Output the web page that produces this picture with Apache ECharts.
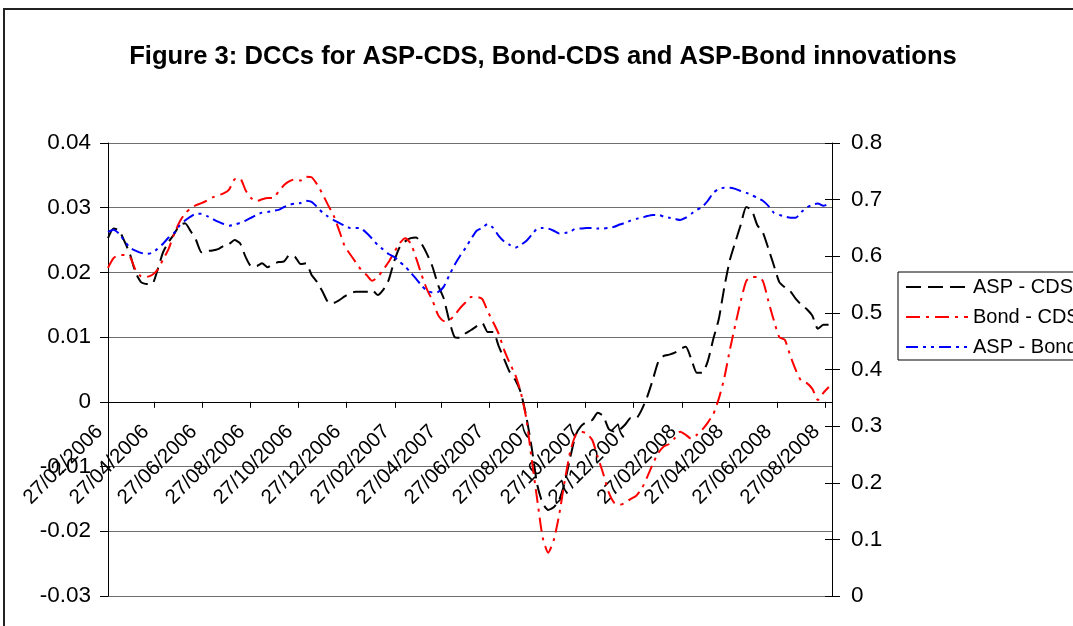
<!DOCTYPE html>
<html>
<head>
<meta charset="utf-8">
<script src="https://cdn.jsdelivr.net/npm/echarts@6/dist/echarts.min.js"></script>
<style>
  html, body { margin: 0; padding: 0; background: #fff; }
  #chart { width: 1073px; height: 626px; }
</style>
</head>
<body>
<div id="chart"></div>
<script>
// Weekly DCC estimates, first observation on Monday 27/02/2006
const firstObs = [2006, 2, 27];
const axisEnd = [2008, 9, 5];

// Dates shown on the date axis (every two months)
const tickDates = [
  '27/02/2006', '27/04/2006', '27/06/2006', '27/08/2006', '27/10/2006', '27/12/2006',
  '27/02/2007', '27/04/2007', '27/06/2007', '27/08/2007', '27/10/2007', '27/12/2007',
  '27/02/2008', '27/04/2008', '27/06/2008', '27/08/2008'
];

const seriesNames = ['ASP - CDS', 'Bond - CDS', 'ASP - Bond'];

// ASP - CDS (primary axis)
const aspCds = [
  0.0253, 0.0268, 0.0265, 0.0248, 0.0228, 0.0200, 0.0185, 0.0182, 0.0182, 0.0204,
  0.0231, 0.0247, 0.0259, 0.0273, 0.0276, 0.0264, 0.0250, 0.0231, 0.0233, 0.0234,
  0.0236, 0.0241, 0.0244, 0.0250, 0.0245, 0.0224, 0.0210, 0.0210, 0.0214, 0.0208,
  0.0213, 0.0216, 0.0217, 0.0227, 0.0224, 0.0213, 0.0214, 0.0196, 0.0185, 0.0170,
  0.0154, 0.0153, 0.0157, 0.0163, 0.0168, 0.0170, 0.0170, 0.0170, 0.0173, 0.0165,
  0.0173, 0.0188, 0.0217, 0.0239, 0.0248, 0.0253, 0.0254, 0.0244, 0.0228, 0.0208,
  0.0180, 0.0160, 0.0126, 0.0100, 0.0099, 0.0106, 0.0111, 0.0117, 0.0122, 0.0108,
  0.0108, 0.0086, 0.0066, 0.0046, 0.0034, 0.0015, -0.0022, -0.0071, -0.0128, -0.0157,
  -0.0167, -0.0163, -0.0151, -0.0125, -0.0086, -0.0051, -0.0037, -0.0031, -0.0028, -0.0017,
  -0.0022, -0.0042, -0.0046, -0.0043, -0.0035, -0.0025, -0.0025, -0.0012, 0.0008, 0.0034,
  0.0062, 0.0071, 0.0073, 0.0076, 0.0082, 0.0085, 0.0066, 0.0045, 0.0045, 0.0063,
  0.0097, 0.0128, 0.0177, 0.0219, 0.0247, 0.0274, 0.0301, 0.0296, 0.0273, 0.0262,
  0.0237, 0.0211, 0.0185, 0.0177, 0.0171, 0.0159, 0.0150, 0.0143, 0.0133, 0.0113,
  0.0119, 0.0119
];

// Bond - CDS (primary axis)
const bondCds = [
  0.0207, 0.0222, 0.0227, 0.0227, 0.0224, 0.0204, 0.0194, 0.0193, 0.0196, 0.0204,
  0.0220, 0.0236, 0.0259, 0.0278, 0.0291, 0.0299, 0.0304, 0.0307, 0.0311, 0.0316,
  0.0319, 0.0322, 0.0328, 0.0344, 0.0345, 0.0327, 0.0315, 0.0310, 0.0313, 0.0315,
  0.0315, 0.0325, 0.0335, 0.0341, 0.0344, 0.0342, 0.0348, 0.0347, 0.0336, 0.0321,
  0.0304, 0.0288, 0.0265, 0.0241, 0.0228, 0.0216, 0.0204, 0.0196, 0.0187, 0.0193,
  0.0204, 0.0216, 0.0231, 0.0245, 0.0253, 0.0245, 0.0222, 0.0196, 0.0173, 0.0156,
  0.0134, 0.0125, 0.0126, 0.0134, 0.0145, 0.0154, 0.0162, 0.0162, 0.0159, 0.0140,
  0.0123, 0.0105, 0.0080, 0.0060, 0.0042, 0.0015, -0.0025, -0.0089, -0.0151, -0.0210,
  -0.0233, -0.0214, -0.0174, -0.0122, -0.0077, -0.0051, -0.0046, -0.0049, -0.0059, -0.0085,
  -0.0111, -0.0140, -0.0156, -0.0159, -0.0156, -0.0150, -0.0145, -0.0134, -0.0116, -0.0096,
  -0.0079, -0.0069, -0.0065, -0.0056, -0.0046, -0.0051, -0.0057, -0.0051, -0.0043, -0.0032,
  -0.0019, 0.0005, 0.0037, 0.0080, 0.0119, 0.0156, 0.0187, 0.0193, 0.0193, 0.0187,
  0.0156, 0.0126, 0.0100, 0.0096, 0.0071, 0.0049, 0.0032, 0.0029, 0.0020, 0.0003,
  0.0014, 0.0023
];

// ASP - Bond (secondary axis)
const aspBond = [
  0.643, 0.647, 0.640, 0.627, 0.615, 0.610, 0.606, 0.604, 0.606, 0.613,
  0.622, 0.633, 0.641, 0.654, 0.663, 0.670, 0.675, 0.675, 0.671, 0.666,
  0.661, 0.657, 0.654, 0.656, 0.659, 0.663, 0.668, 0.673, 0.677, 0.678,
  0.680, 0.682, 0.687, 0.691, 0.693, 0.694, 0.698, 0.696, 0.687, 0.677,
  0.670, 0.664, 0.659, 0.654, 0.650, 0.650, 0.649, 0.641, 0.631, 0.620,
  0.612, 0.604, 0.599, 0.590, 0.582, 0.571, 0.560, 0.548, 0.539, 0.536,
  0.537, 0.546, 0.566, 0.585, 0.601, 0.615, 0.631, 0.645, 0.650, 0.657,
  0.650, 0.636, 0.626, 0.620, 0.615, 0.620, 0.627, 0.638, 0.649, 0.650,
  0.649, 0.645, 0.640, 0.641, 0.643, 0.649, 0.649, 0.650, 0.650, 0.649,
  0.649, 0.650, 0.652, 0.656, 0.659, 0.663, 0.666, 0.668, 0.671, 0.673,
  0.673, 0.670, 0.668, 0.666, 0.664, 0.668, 0.675, 0.682, 0.687, 0.698,
  0.712, 0.719, 0.721, 0.721, 0.719, 0.715, 0.712, 0.708, 0.703, 0.698,
  0.689, 0.677, 0.673, 0.670, 0.668, 0.668, 0.678, 0.686, 0.691, 0.693,
  0.689, 0.693
];

const FONT = '"Liberation Sans", Arial, Helvetica, sans-serif';

// plot box (pixels) and primary-axis range
const PLOT = { left: 108, right: 832, top: 143, bottom: 596 };
const leftMin = -0.03, leftMax = 0.04;
// the date axis crosses the primary axis at 0
const dateAxisOffset = -(PLOT.bottom - PLOT.top) * (0 - leftMin) / (leftMax - leftMin);

function ymdTime(y, m, d) { return new Date(y, m - 1, d).getTime(); }
function dmyTime(s) { const p = s.split('/').map(Number); return ymdTime(p[2], p[1], p[0]); }
function pad2(n) { return (n < 10 ? '0' : '') + n; }
function fmtDate(t) {
  const d = new Date(t);
  return pad2(d.getDate()) + '/' + pad2(d.getMonth() + 1) + '/' + d.getFullYear();
}

// weekly observation dates
const obsTimes = aspCds.map((_, i) => {
  const d = new Date(firstObs[0], firstObs[1] - 1, firstObs[2] + 7 * i);
  return d.getTime();
});
const pair = arr => arr.map((v, i) => [obsTimes[i], v]);
const tickTimes = tickDates.map(dmyTime);

const chart = echarts.init(document.getElementById('chart'), null, { renderer: 'canvas' });

const option = {
  backgroundColor: '#ffffff',
  animation: false,
  textStyle: { fontFamily: FONT },
  title: {
    text: 'Figure 3: DCCs for ASP-CDS, Bond-CDS and ASP-Bond innovations',
    left: 543,
    top: 44,
    textAlign: 'center',
    padding: 0,
    textStyle: { fontFamily: FONT, fontSize: 25.6, fontWeight: 'bold', color: '#000' }
  },
  legend: {
    orient: 'vertical',
    left: 898,
    top: 272,
    padding: [5, 10, 3, 7],
    itemWidth: 62,
    itemHeight: 14,
    itemGap: 10,
    backgroundColor: '#fff',
    borderColor: '#000',
    borderWidth: 1,
    borderRadius: 0,
    itemStyle: { opacity: 0 },
    textStyle: { fontFamily: FONT, fontSize: 20, color: '#000', lineHeight: 20 },
    data: seriesNames
  },
  graphic: [{
    type: 'rect',
    silent: true,
    z: 100,
    shape: { x: 4, y: 9, width: 1200, height: 800 },
    style: { fill: 'none', stroke: '#222', lineWidth: 2 }
  }],
  grid: {
    left: PLOT.left,
    right: 1073 - PLOT.right,
    top: PLOT.top,
    bottom: 626 - PLOT.bottom,
    containLabel: false,
    outerBoundsMode: 'none'
  },
  xAxis: {
    type: 'value',
    min: ymdTime(firstObs[0], firstObs[1], firstObs[2]),
    max: ymdTime(axisEnd[0], axisEnd[1], axisEnd[2]),
    position: 'bottom',
    offset: dateAxisOffset,
    axisLine: { show: true, onZero: false, lineStyle: { color: '#000', width: 1 } },
    axisTick: { show: true, length: 6, customValues: tickTimes, lineStyle: { color: '#000' } },
    axisLabel: {
      show: true,
      customValues: tickTimes,
      rotate: 45,
      margin: 18,
      padding: [0, 12, 0, 0],
      fontFamily: FONT,
      fontSize: 20.5,
      color: '#000',
      hideOverlap: false,
      formatter: v => fmtDate(v)
    },
    splitLine: { show: false }
  },
  yAxis: [
    {
      type: 'value',
      position: 'left',
      min: leftMin,
      max: leftMax,
      interval: 0.01,
      axisLine: { show: true, onZero: false, lineStyle: { color: '#000' } },
      axisTick: { show: true, length: 8, lineStyle: { color: '#000' } },
      axisLabel: {
        margin: 17, fontFamily: FONT, fontSize: 22.5, color: '#000',
        formatter: v => String(+v.toFixed(2))
      },
      splitLine: { show: true, lineStyle: { color: '#6f6f6f', width: 1 } }
    },
    {
      type: 'value',
      position: 'right',
      min: 0,
      max: 0.8,
      interval: 0.1,
      axisLine: { show: true, onZero: false, lineStyle: { color: '#000' } },
      axisTick: { show: true, length: 8, lineStyle: { color: '#000' } },
      axisLabel: {
        margin: 19, fontFamily: FONT, fontSize: 22.5, color: '#000',
        formatter: v => String(+v.toFixed(1))
      },
      splitLine: { show: false }
    },
    {
      // inner half of the secondary-axis tick marks
      type: 'value',
      position: 'right',
      min: 0,
      max: 0.8,
      interval: 0.1,
      axisLine: { show: false, onZero: false },
      axisTick: { show: true, inside: true, length: 7, lineStyle: { color: '#000' } },
      axisLabel: { show: false },
      splitLine: { show: false }
    }
  ],
  series: [
    {
      name: seriesNames[0],
      type: 'line',
      yAxisIndex: 0,
      data: pair(aspCds),
      showSymbol: false,
      symbol: 'none',
      smooth: 0.2,
      color: '#000000',
      lineStyle: { color: '#000000', width: 2, type: [15, 7] },
      z: 3
    },
    {
      name: seriesNames[1],
      type: 'line',
      yAxisIndex: 0,
      data: pair(bondCds),
      showSymbol: false,
      symbol: 'none',
      smooth: 0.2,
      color: '#ff0000',
      lineStyle: { color: '#ff0000', width: 2, type: [14, 6, 3, 6] },
      z: 3
    },
    {
      name: seriesNames[2],
      type: 'line',
      yAxisIndex: 1,
      data: pair(aspBond),
      showSymbol: false,
      symbol: 'none',
      smooth: 0.2,
      color: '#0000ff',
      lineStyle: { color: '#0000ff', width: 2, type: [12, 5, 3, 5, 3, 5] },
      z: 3
    }
  ]
};

chart.setOption(option);
</script>
</body>
</html>
